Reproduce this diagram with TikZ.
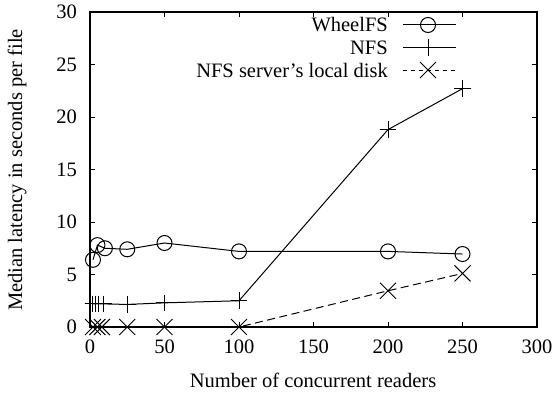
\documentclass[tikz,border=0pt]{standalone}
\usepackage{fontspec}
\setmainfont{Liberation Serif}
\usetikzlibrary{plotmarks}
\begin{document}
\begin{tikzpicture}[x=1pt,y=1pt,
  font=\fontsize{20.5}{24}\selectfont,
  frame/.style={line width=1.1pt},
  tickline/.style={line width=0.9pt},
  series/.style={line width=1pt},
  dashseries/.style={series, dash pattern=on 8pt off 4.5pt},
  legdash/.style={series, dash pattern=on 4.5pt off 3.5pt},
  mko/.style={mark=o, mark size=7.5pt},
  mkplus/.style={mark=+, mark size=8.3pt},
  mkx/.style={mark=x, mark size=11.3pt, mark options={solid}},
  lbl/.style={inner sep=0pt}]
\useasboundingbox (0,0) rectangle (557,392);
\begin{scope}[shift={(90,65)}, x=1.49pt, y=10.5pt]
  % ticks and tick labels
  \foreach \v in {0,50,...,300} {
    \draw[tickline] (\v,0) -- ++(0pt,5pt);
    \draw[tickline] (\v,30) -- ++(0pt,-5pt);
    \node[lbl] (xt\v) at ([yshift=-20pt]\v,0) {\v};
  }
  \foreach \v in {0,5,...,30} {
    \draw[tickline] (0,\v) -- ++(5pt,0pt);
    \draw[tickline] (300,\v) -- ++(-5pt,0pt);
    \node[lbl, anchor=east] (yt\v) at ([xshift=-13pt]0,\v) {\v};
  }
  \draw[frame] (0,0) rectangle (300,30);
  % WheelFS
  \draw[series] plot[mko] coordinates {(2,6.4) (5,7.8) (10,7.5) (25,7.4) (50,8.0) (100,7.2) (200,7.2) (250,6.95)};
  % NFS
  \draw[series] plot[mkplus] coordinates {(2,2.2) (4,2.2) (6,2.2) (9,2.2) (25,2.15) (50,2.3) (100,2.5) (200,18.8) (250,22.7)};
  % local disk
  \draw[dashseries] plot[mkx] coordinates {(2,0) (5,0) (8,0) (25,0) (50,0) (100,0) (200,3.45) (250,5.1)};
\end{scope}
% axis titles
\node[lbl, rotate=90] (ylab) at (17,222) {Median latency in seconds per file};
\node[lbl] (xlab) at (313,12) {Number of concurrent readers};
% legend
\node[lbl, anchor=east] (l1) at (388,367) {WheelFS};
\node[lbl, anchor=east] (l2) at (388,344.5) {NFS};
\node[lbl, anchor=east] (l3) at (388,322) {NFS server’s local disk};
\coordinate (a1) at (402.5,367); \coordinate (b1) at (456,367);
\coordinate (a2) at (402.5,344.5); \coordinate (b2) at (456,344.5);
\coordinate (a3) at (402.5,322); \coordinate (b3) at (456,322);
\draw[series] (a1) -- (b1);
\draw[series] (a2) -- (b2);
\draw[legdash] (a3) -- (b3);
\draw[series] plot[mko] coordinates {(428,367)};
\draw[series] plot[mkplus] coordinates {(428,344.5)};
\draw[series] plot[mkx] coordinates {(428,322)};
\end{tikzpicture}
\end{document}
